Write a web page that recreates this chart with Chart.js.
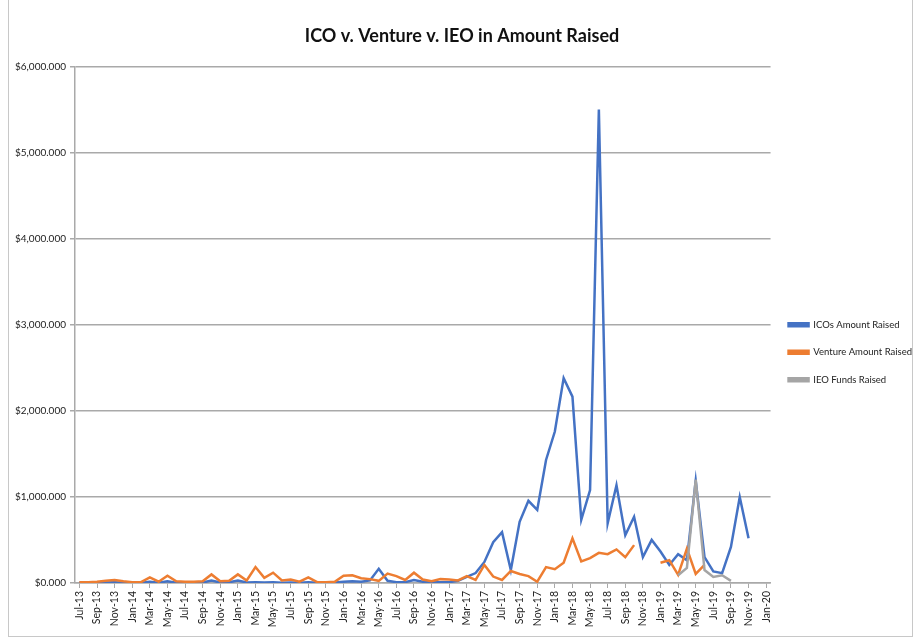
<!DOCTYPE html>
<html><head><meta charset="utf-8">
<script src="https://cdn.jsdelivr.net/npm/chart.js@4/dist/chart.umd.min.js"></script>
<style>
html,body{margin:0;padding:0;background:#fff;}
#wrap{position:absolute;left:0;top:0;width:917px;height:641px;}
#frame{position:absolute;left:8px;top:-2px;width:905px;height:639px;border:1px solid #c8c8c8;box-sizing:border-box;pointer-events:none;}
</style></head><body>
<div id="wrap"><canvas id="c" width="917" height="641"></canvas><div id="frame"></div></div>
<script>
const months = ["Jul-13","Aug-13","Sep-13","Oct-13","Nov-13","Dec-13",
"Jan-14","Feb-14","Mar-14","Apr-14","May-14","Jun-14","Jul-14","Aug-14","Sep-14","Oct-14","Nov-14","Dec-14",
"Jan-15","Feb-15","Mar-15","Apr-15","May-15","Jun-15","Jul-15","Aug-15","Sep-15","Oct-15","Nov-15","Dec-15",
"Jan-16","Feb-16","Mar-16","Apr-16","May-16","Jun-16","Jul-16","Aug-16","Sep-16","Oct-16","Nov-16","Dec-16",
"Jan-17","Feb-17","Mar-17","Apr-17","May-17","Jun-17","Jul-17","Aug-17","Sep-17","Oct-17","Nov-17","Dec-17",
"Jan-18","Feb-18","Mar-18","Apr-18","May-18","Jun-18","Jul-18","Aug-18","Sep-18","Oct-18","Nov-18","Dec-18",
"Jan-19","Feb-19","Mar-19","Apr-19","May-19","Jun-19","Jul-19","Aug-19","Sep-19","Oct-19","Nov-19","Dec-19",
"Jan-20"];

const icoRaised = [5,3,2,5,10,3,
2,3,15,3,20,2,3,2,5,30,5,8,
30,5,10,5,8,3,5,2,8,2,3,5,
15,20,15,30,165,25,10,10,35,15,10,10,
10,25,70,115,245,475,590,150,710,955,850,1430,
1760,2380,2165,735,1080,5500,695,1135,555,770,300,500,
365,210,335,265,1190,300,135,115,420,1000,520,null,
null];

const ventureRaised = [10,10,15,25,35,20,
10,10,65,15,85,20,15,15,20,100,20,25,
100,30,185,60,120,30,40,15,65,10,10,15,
85,90,55,45,25,110,80,35,120,40,20,45,
40,30,80,35,210,75,35,140,105,80,15,185,
160,235,520,250,290,350,335,390,300,440,null,null,
235,265,95,400,105,210,null,null,null,null,null,null,
null];

const ieoRaised = [null,null,null,null,null,null,
null,null,null,null,null,null,null,null,null,null,null,null,
null,null,null,null,null,null,null,null,null,null,null,null,
null,null,null,null,null,null,null,null,null,null,null,null,
null,null,null,null,null,null,null,null,null,null,null,null,
null,null,null,null,null,null,null,null,null,null,null,null,
null,null,90,175,1200,150,70,90,25,null,null,null,
null];

const yTicks = [0,1000,2000,3000,4000,5000,6000];

const gridCol = '#a9a9a9';
const font = 'Lato, "Open Sans", sans-serif';

new Chart(document.getElementById('c'), {
  type: 'line',
  data: {
    labels: months,
    datasets: [
      {label:'ICOs Amount Raised', data: icoRaised, order:2, borderColor:'#4472C4', backgroundColor:'#4472C4', borderWidth:2.5, pointRadius:0, tension:0, spanGaps:false},
      {label:'Venture Amount Raised', data: ventureRaised, order:1, borderColor:'#ED7D31', backgroundColor:'#ED7D31', borderWidth:2.5, pointRadius:0, tension:0, spanGaps:false},
      {label:'IEO Funds Raised', data: ieoRaised, order:0, borderColor:'#A5A5A5', backgroundColor:'#A5A5A5', borderWidth:2.5, pointRadius:0, tension:0, spanGaps:false}
    ]
  },
  options: {
    responsive:false,
    animation:false,
    devicePixelRatio:1,
    layout:{padding:{left:2,right:-5,top:0,bottom:0}},
    plugins:{
      title:{display:true,text:'ICO v. Venture v. IEO in Amount Raised',color:'#111',font:{family:font,size:18,weight:'bold'},padding:{top:25,bottom:20}},
      legend:{position:'right',align:'center',
        title:{display:true,text:'',padding:{top:26,bottom:26},font:{family:font,size:9.5}},
        labels:{boxWidth:20,boxHeight:3,padding:18,color:'#222',font:{family:font,size:9.5},
        sort:(a,b)=>a.datasetIndex-b.datasetIndex}},
      tooltip:{enabled:false}
    },
    scales:{
      x:{
        offset:true,
        afterFit:(s)=>{s.height=58;},
        grid:{display:true,drawOnChartArea:false,drawTicks:true,tickLength:5,color:(c)=> (c.index%2===0?gridCol:'rgba(0,0,0,0)'),lineWidth:1},
        border:{display:true,color:gridCol,width:1.5},
        ticks:{autoSkip:false,minRotation:90,maxRotation:90,color:'#222',padding:3,font:{family:font,size:10.5},
          callback:function(v,i){return i%2===0?months[i]:'';}}
      },
      y:{
        min:yTicks[0],max:yTicks[yTicks.length-1],
        afterFit:(s)=>{s.width=73;},
        afterBuildTicks:(s)=>{s.ticks=yTicks.map(v=>({value:v}));},
        grid:{color:gridCol,lineWidth:1.5,tickLength:5},
        border:{display:true,color:gridCol,width:1.5},
        ticks:{color:'#222',padding:4,font:{family:font,size:10},
          callback:(v)=>'$'+Number(v).toLocaleString('en-US',{minimumFractionDigits:3,maximumFractionDigits:3})}
      }
    }
  }
});
</script>
</body></html>
